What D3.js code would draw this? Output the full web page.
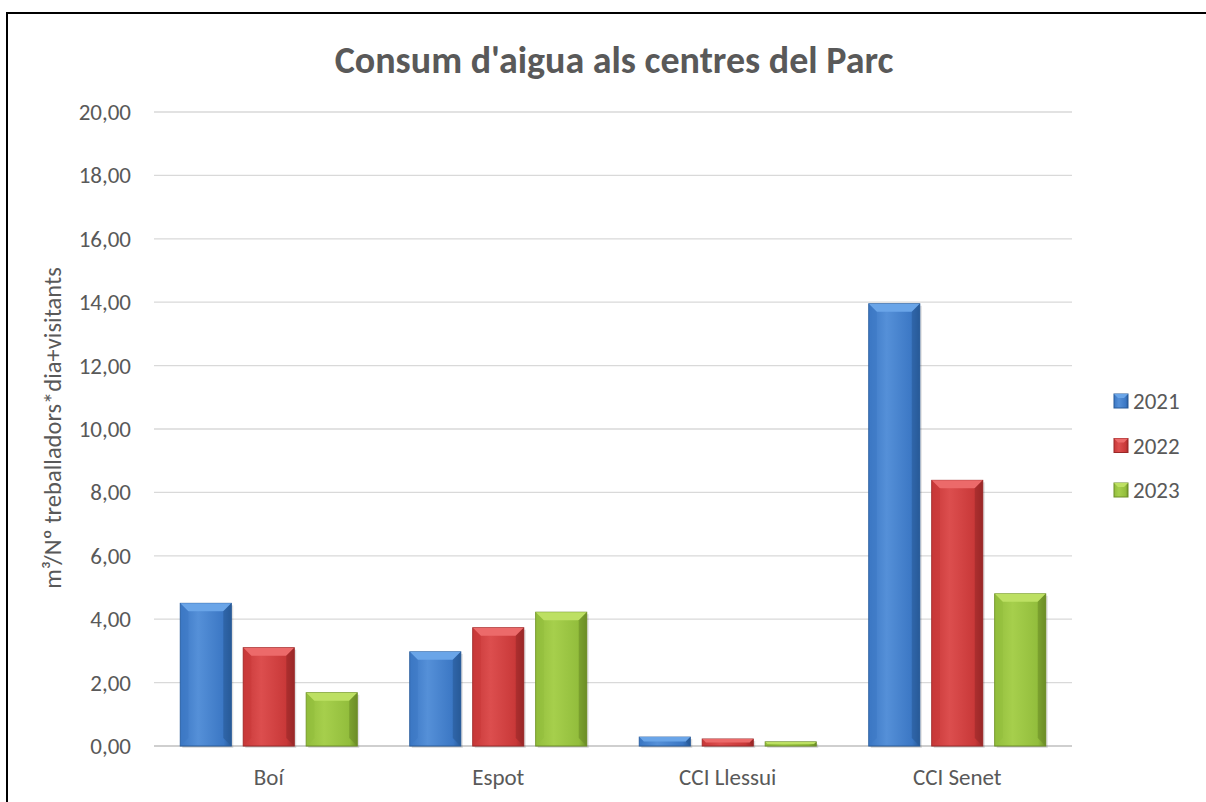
<!DOCTYPE html>
<html>
<head>
<meta charset="utf-8">
<script src="https://cdn.jsdelivr.net/npm/d3@7"></script>
<style>
  html, body { margin: 0; padding: 0; background: #fff; }
  svg { display: block; }
</style>
</head>
<body>
<div id="chart"></div>
<script>
// Consum d'aigua — grouped bars with an Excel-like bevel
const centres = ['Boí', 'Espot', 'CCI Llessui', 'CCI Senet'];
const years = ['2021', '2022', '2023'];
const v2021 = [4.50, 2.97, 0.28, 13.95];
const v2022 = [3.10, 3.73, 0.22, 8.38];
const v2023 = [1.68, 4.22, 0.13, 4.80];
const yTicks = [0, 2, 4, 6, 8, 10, 12, 14, 16, 18, 20];

const seriesValues = [v2021, v2022, v2023];
const colours = {
  '2021': { mid: '#3b77c4', light: '#5590d8', dark: '#285a98', top: '#6aa5e8' },
  '2022': { mid: '#c83838', light: '#dc4e4e', dark: '#9a2828', top: '#ec6a6a' },
  '2023': { mid: '#92bd3c', light: '#a6cf4c', dark: '#6c8e26', top: '#bde063' }
};

const width = 1206, height = 802;
const plot = { left: 154, right: 1072, top: 112, bottom: 746 };
const font = 'Calibri, Carlito, "Open Sans", "Noto Sans", sans-serif';
const textCol = '#595959';

const svg = d3.select('#chart').append('svg')
  .attr('width', width).attr('height', height);

// gradients per series
const defs = svg.append('defs');
years.forEach(y => {
  const c = colours[y];
  const g = defs.append('linearGradient').attr('id', 'g' + y)
    .attr('x1', 0).attr('x2', 1).attr('y1', 0).attr('y2', 0);
  g.append('stop').attr('offset', '0%').attr('stop-color', c.mid);
  g.append('stop').attr('offset', '35%').attr('stop-color', c.light);
  g.append('stop').attr('offset', '85%').attr('stop-color', c.mid);
  g.append('stop').attr('offset', '100%').attr('stop-color', c.dark);
});

// outer frame (only top/left visible in crop)
svg.append('rect')
  .attr('x', 7).attr('y', 13).attr('width', width + 20).attr('height', height + 20)
  .attr('fill', 'none').attr('stroke', '#000').attr('stroke-width', 2);

const x0 = d3.scaleBand().domain(centres)
  .range([plot.left, plot.right]).paddingInner(0.229).paddingOuter(0.1145);
const x1 = d3.scaleBand().domain(years)
  .range([0, x0.bandwidth()]).paddingInner(0.19).paddingOuter(0);
const y = d3.scaleLinear().domain([0, 20]).range([plot.bottom, plot.top]);

// gridlines
svg.append('g')
  .selectAll('line').data(yTicks).join('line')
  .attr('x1', plot.left).attr('x2', plot.right)
  .attr('y1', d => y(d)).attr('y2', d => y(d))
  .attr('stroke', d => d === 0 ? '#bfbfbf' : '#d9d9d9')
  .attr('stroke-width', 1.3);

// y axis labels
const fmt = d => d3.format('.2f')(d).replace('.', ',');
svg.append('g')
  .selectAll('text').data(yTicks).join('text')
  .attr('x', 131).attr('y', d => y(d) + 8)
  .attr('text-anchor', 'end')
  .attr('font-family', font).attr('font-size', 23)
  .attr('fill', textCol)
  .text(fmt);

// y axis title
svg.append('text')
  .attr('transform', 'translate(61, 428) rotate(-90)')
  .attr('text-anchor', 'middle')
  .attr('font-family', font).attr('font-size', 24.5)
  .attr('fill', textCol)
  .text('m³/Nº treballadors*dia+visitants');

// bars
const bars = [];
centres.forEach((c, i) => {
  years.forEach((yr, j) => {
    bars.push({ centre: c, year: yr, value: seriesValues[j][i] });
  });
});

const bevel = 8;
const barG = svg.append('g').selectAll('g').data(bars).join('g')
  .attr('transform', d => `translate(${x0(d.centre) + x1(d.year)},0)`);

barG.append('rect')
  .attr('x', 2).attr('y', d => y(d.value) + 2)
  .attr('width', x1.bandwidth()).attr('height', d => y(0) - y(d.value))
  .attr('fill', '#000').attr('opacity', 0.12);

barG.append('rect')
  .attr('x', 0).attr('y', d => y(d.value))
  .attr('width', x1.bandwidth()).attr('height', d => y(0) - y(d.value))
  .attr('fill', d => `url(#g${d.year})`)
  .attr('stroke', d => colours[d.year].dark).attr('stroke-width', 1);

// top bevel
barG.append('polygon')
  .attr('points', d => {
    const w = x1.bandwidth();
    const t = y(d.value);
    const b = Math.min(bevel, (y(0) - t) / 2);
    return `0,${t} ${w},${t} ${w - b},${t + b} ${b},${t + b}`;
  })
  .attr('fill', d => colours[d.year].top);

// side bevels
barG.append('polygon')
  .attr('points', d => {
    const t = y(d.value);
    const h = y(0) - t;
    const b = Math.min(bevel, h / 2);
    return `0,${t} ${b},${t + b} ${b},${y(0) - b} 0,${y(0)}`;
  })
  .attr('fill', d => colours[d.year].mid).attr('opacity', 0.5);
barG.append('polygon')
  .attr('points', d => {
    const w = x1.bandwidth();
    const t = y(d.value);
    const h = y(0) - t;
    const b = Math.min(bevel, h / 2);
    return `${w},${t} ${w - b},${t + b} ${w - b},${y(0) - b} ${w},${y(0)}`;
  })
  .attr('fill', d => colours[d.year].dark).attr('opacity', 0.6);

// x axis labels
svg.append('g')
  .selectAll('text').data(centres).join('text')
  .attr('x', d => x0(d) + x0.bandwidth() / 2).attr('y', 785)
  .attr('text-anchor', 'middle')
  .attr('font-family', font).attr('font-size', 23)
  .attr('fill', textCol)
  .text(d => d);

// title
svg.append('text')
  .attr('x', 614).attr('y', 73)
  .attr('text-anchor', 'middle')
  .attr('font-family', font).attr('font-size', 38).attr('font-weight', 700)
  .attr('fill', textCol)
  .text("Consum d'aigua als centres del Parc");

// legend
const legend = svg.append('g').selectAll('g').data(years).join('g')
  .attr('transform', (d, i) => `translate(1114, ${394 + i * 44.5})`);
legend.append('rect')
  .attr('width', 14).attr('height', 14)
  .attr('fill', d => `url(#g${d})`)
  .attr('stroke', d => colours[d].dark);
legend.append('polygon')
  .attr('points', '0,0 14,0 10,4 4,4')
  .attr('fill', d => colours[d].top);
legend.append('text')
  .attr('x', 19).attr('y', 15)
  .attr('font-family', font).attr('font-size', 23)
  .attr('fill', textCol)
  .text(d => d);
</script>
</body>
</html>
